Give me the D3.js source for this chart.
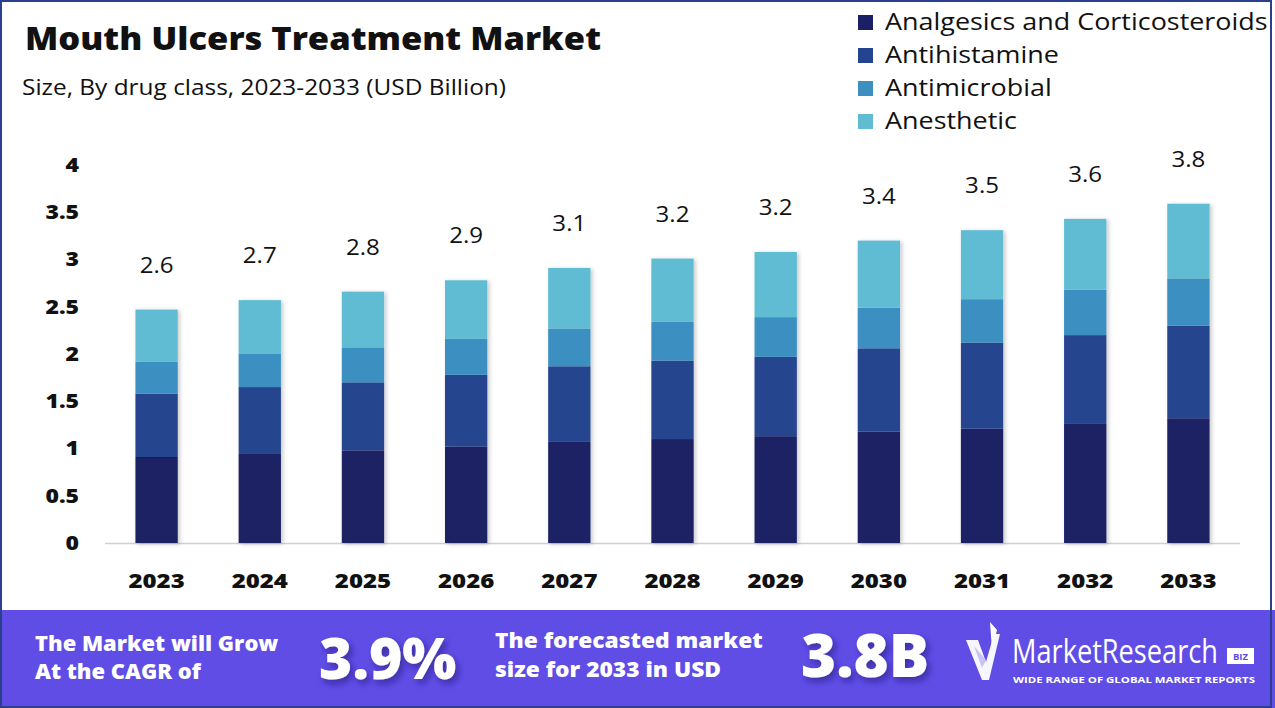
<!DOCTYPE html>
<html>
<head>
<meta charset="utf-8">
<script src="https://cdn.jsdelivr.net/npm/d3@7"></script>
<style>
  html, body { margin: 0; padding: 0; background: #fff; }
  svg { display: block; }
  text { font-family: "Open Sans", "Noto Sans", sans-serif; }
</style>
</head>
<body>
<svg id="chart" width="1275" height="708"></svg>
<script>
// ---- data ----
const years = ["2023","2024","2025","2026","2027","2028","2029","2030","2031","2032","2033"];
const seriesNames = ["Analgesics and Corticosteroids","Antihistamine","Antimicrobial","Anesthetic"];
const analgesics    = [0.91,0.95,0.98,1.02,1.07,1.10,1.13,1.18,1.21,1.26,1.32];
const antihistamine = [0.67,0.70,0.72,0.76,0.80,0.83,0.84,0.88,0.91,0.94,0.98];
const antimicrobial = [0.34,0.35,0.37,0.38,0.40,0.41,0.42,0.43,0.46,0.48,0.50];
const anesthetic    = [0.55,0.57,0.59,0.62,0.64,0.67,0.69,0.71,0.73,0.75,0.79];
const totalLabels   = ["2.6","2.7","2.8","2.9","3.1","3.2","3.2","3.4","3.5","3.6","3.8"];
const yTicks = [0,0.5,1,1.5,2,2.5,3,3.5,4];
const colors = ["#1a2063","#25448f","#3b8fc1","#5fbcd3"];
const cagrText = "3.9%";
const forecastText = "3.8B";

const svg = d3.select("#chart");
const W = 1275, H = 708;

// widen text (reference font is wider than the available ones)
function widen(sel, factor) {
  sel.each(function() {
    const w = this.getComputedTextLength();
    d3.select(this).attr("textLength", w * factor).attr("lengthAdjust", "spacingAndGlyphs");
  });
  return sel;
}

// filters
const defs = svg.append("defs");
const f = defs.append("filter").attr("id","shadow").attr("x","-20%").attr("y","-10%").attr("width","150%").attr("height","130%");
f.append("feDropShadow").attr("dx",2).attr("dy",1).attr("stdDeviation",2).attr("flood-color","#000").attr("flood-opacity",0.22);
const ts = defs.append("filter").attr("id","tshadow").attr("x","-20%").attr("y","-20%").attr("width","150%").attr("height","160%");
ts.append("feDropShadow").attr("dx",3).attr("dy",4).attr("stdDeviation",3).attr("flood-color","#1d1270").attr("flood-opacity",0.55);

// background
svg.append("rect").attr("x",0).attr("y",0).attr("width",W).attr("height",H).attr("fill","#fff");

// title
svg.append("text").attr("x",25).attr("y",50).attr("font-size",32).attr("font-weight",800)
  .attr("fill","#111").attr("textLength",576).attr("lengthAdjust","spacingAndGlyphs")
  .text("Mouth Ulcers Treatment Market");
svg.append("text").attr("x",22).attr("y",95).attr("font-size",21).attr("fill","#111")
  .attr("textLength",484).attr("lengthAdjust","spacingAndGlyphs")
  .text("Size, By drug class, 2023-2033 (USD Billion)");

// legend
const lg = svg.append("g");
seriesNames.forEach((n,i) => {
  const yy = 22 + i*33;
  lg.append("rect").attr("x",858).attr("y",yy-7).attr("width",15).attr("height",15).attr("fill",colors[i]);
  widen(lg.append("text").attr("x",885).attr("y",yy+8).attr("font-size",23).attr("fill","#111").text(n), 1.17);
});

// scales
const x = d3.scaleBand().domain(years).range([105,1240]).paddingInner(0.59).paddingOuter(0.295);
const y = d3.scaleLinear().domain([0,4]).range([543,165]);

// stack
const rows = years.map((yr,i) => ({year: yr, a: analgesics[i], b: antihistamine[i], c: antimicrobial[i], d: anesthetic[i]}));
const stack = d3.stack().keys(["a","b","c","d"])(rows);

// baseline
svg.append("line").attr("x1",105).attr("x2",1240).attr("y1",543.5).attr("y2",543.5)
  .attr("stroke","#d0d0d0").attr("stroke-width",1.5);

// bars
const barG = svg.append("g").attr("filter","url(#shadow)");
stack.forEach((layer,li) => {
  barG.selectAll(null).data(layer).enter().append("rect")
    .attr("x", d => x(d.data.year))
    .attr("width", x.bandwidth())
    .attr("y", d => y(d[1]))
    .attr("height", d => y(d[0]) - y(d[1]))
    .attr("fill", colors[li]);
});

// total labels
const last = stack[stack.length-1];
widen(svg.append("g").selectAll("text").data(last).enter().append("text")
  .attr("x", d => x(d.data.year) + x.bandwidth()/2)
  .attr("y", d => y(d[1]) - 37)
  .attr("text-anchor","middle").attr("font-size",21.5).attr("fill","#111")
  .text((d,i) => totalLabels[i]), 1.12);

// y axis
const yAxis = svg.append("g").attr("transform","translate(79,0)")
  .call(d3.axisLeft(y).tickValues(yTicks).tickSize(0).tickPadding(0).tickFormat(d3.format("")));
yAxis.select(".domain").remove();
widen(yAxis.selectAll("text").attr("font-size",20).attr("font-weight",800).attr("fill","#111")
  .attr("font-family","'Open Sans', sans-serif"), 1.15);

// x axis
const xAxis = svg.append("g").attr("transform","translate(0,543)")
  .call(d3.axisBottom(x).tickSize(0).tickPadding(31));
xAxis.select(".domain").remove();
widen(xAxis.selectAll("text").attr("font-size",20).attr("font-weight",800).attr("fill","#111")
  .attr("font-family","'Open Sans', sans-serif"), 1.2);

// banner
svg.append("rect").attr("x",0).attr("y",610).attr("width",W).attr("height",98).attr("fill","#5f4de5");
const bt = svg.append("g").attr("fill","#fff").attr("font-weight",800);
widen(bt.append("text").attr("x",35).attr("y",651).attr("font-size",20.5).text("The Market will Grow"), 1.07);
widen(bt.append("text").attr("x",35).attr("y",679).attr("font-size",20.5).text("At the CAGR of"), 1.07);
bt.append("text").attr("x",319).attr("y",679).attr("font-size",57).attr("filter","url(#tshadow)").text(cagrText);
widen(bt.append("text").attr("x",495).attr("y",648).attr("font-size",20.5).text("The forecasted market"), 1.11);
widen(bt.append("text").attr("x",495).attr("y",677).attr("font-size",20.5).text("size for 2033 in USD"), 1.11);
bt.append("text").attr("x",801).attr("y",677).attr("font-size",60).attr("filter","url(#tshadow)").text(forecastText);

// logo
const logo = svg.append("g");
logo.append("path").attr("d","M966,640 L978,640 L986,662 L994,634 L1000,634 L989,680 L982,680 Z").attr("fill","#fff").attr("opacity",0.95);
logo.append("path").attr("d","M974,646 L982,668 L986,660 Z").attr("fill","#c9c2f5");
logo.append("path").attr("d","M990,622 L997,630 L992,650 Z").attr("fill","#fff");
const mr = logo.append("text").attr("x",0).attr("y",0).attr("font-size",30).attr("fill","#fff")
  .attr("font-family","'Liberation Sans Narrow','DejaVu Sans Condensed',sans-serif")
  .text("MarketResearch");
const mrW = mr.node().getComputedTextLength();
mr.attr("transform", `translate(1012,663) scale(${206 / mrW},1.1)`);
logo.append("rect").attr("x",1227).attr("y",648).attr("width",27).attr("height",16).attr("fill","#fff");
logo.append("text").attr("x",1240.5).attr("y",660).attr("text-anchor","middle").attr("font-size",9.5).attr("font-weight",700)
  .attr("fill","#5f4de5").text("BIZ");
logo.append("text").attr("x",1013).attr("y",683).attr("font-size",8.5).attr("font-weight",700).attr("fill","#fff")
  .attr("textLength",242).attr("lengthAdjust","spacingAndGlyphs").text("WIDE RANGE OF GLOBAL MARKET REPORTS");

// border
svg.append("rect").attr("x",1).attr("y",1).attr("width",1270).attr("height",706)
  .attr("fill","none").attr("stroke","#2b3f8f").attr("stroke-width",2);
</script>
</body>
</html>
